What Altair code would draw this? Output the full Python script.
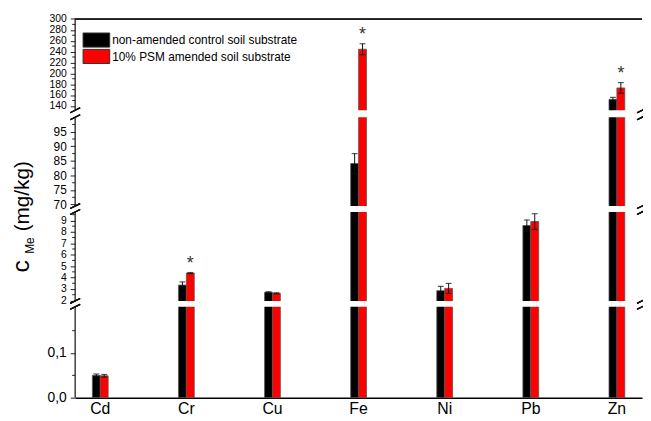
import altair as alt
import pandas as pd

# ---------------- data ----------------
elements = ["Cd", "Cr", "Cu", "Fe", "Ni", "Pb", "Zn"]
series_names = ["non-amended control soil substrate", "10% PSM amended soil substrate"]
series_colors = ["#000000", "#ff0000"]

control_mean = [0.050, 3.34, 2.71, 84.1, 2.85, 8.55, 152.1]
control_err = [0.003, 0.28, 0.05, 3.4, 0.38, 0.49, 3.6]
psm_mean = [0.049, 4.39, 2.62, 244.3, 3.05, 8.90, 173.1]
psm_err = [0.003, 0.05, 0.05, 10.1, 0.44, 0.69, 9.8]
significant = ["Cr", "Fe", "Zn"]  # PSM values marked with *

major_ticks = [0.0, 0.1, 2, 3, 4, 5, 6, 7, 8, 9, 70, 75, 80, 85, 90, 95,
               140, 160, 180, 200, 220, 240, 260, 280, 300]
minor_ticks = [0.05, 0.15, 2.5, 3.5, 4.5, 5.5, 6.5, 7.5, 8.5, 9.5,
               72.5, 77.5, 82.5, 87.5, 92.5, 97.5,
               150, 170, 190, 210, 230, 250, 270, 290]

# broken y axis: value breakpoints and their pixel rows in the plot
seg_domain = [0, 0.2033, 1.957, 9.735, 69.49, 99.98, 131.9, 300.9]
seg_range = [384, 292, 286, 196, 190, 100, 93, 0]

W, H = 574, 384

rows = []
for i, el in enumerate(elements):
    for s, m, e in ((series_names[0], control_mean[i], control_err[i]),
                    (series_names[1], psm_mean[i], psm_err[i])):
        rows.append({"element": el, "series": s, "mean": m, "lo": m - e, "hi": m + e,
                     "sig": (s == series_names[1] and el in significant)})
df = pd.DataFrame(rows)

segs = pd.DataFrame({"a": seg_domain[0::2], "b": seg_domain[1::2]})
gaps = pd.DataFrame({"a": seg_domain[1:-1:2], "b": seg_domain[2::2]})
minor_df = pd.DataFrame({"v": minor_ticks})

# ---------------- scales ----------------
xscale = alt.Scale(domain=elements, paddingInner=0.8166, paddingOuter=0.2)
yscale = alt.Scale(type="linear", domain=seg_domain, range=seg_range, zero=False, nice=False)
xoff = alt.XOffset("series:N", scale=alt.Scale(domain=series_names, paddingInner=0, paddingOuter=0))
color = alt.Color("series:N", scale=alt.Scale(domain=series_names, range=series_colors), legend=None)

x_axis = alt.Axis(title=None, labelAngle=0, ticks=False, domainColor="#000", domainWidth=1.6,
                  labelFontSize=16, labelFont="Liberation Sans", labelColor="#000", labelPadding=3,
                  grid=False)
y_axis = alt.Axis(values=major_ticks, title=None, domain=False, grid=False, tickSize=5,
                  tickColor="#222", tickWidth=1,
                  labelFontSize={"condition": [
                      {"test": "datum.value < 1", "value": 14},
                      {"test": "datum.value > 50 && datum.value < 100", "value": 12},
                  ], "value": 10.5},
                  labelFont="Liberation Sans", labelColor="#000", labelPadding=4,
                  labelOverlap=False, labelFlush=False,
                  labelExpr="datum.value < 1 ? replace(format(datum.value, '.1f'), '.', ',') : format(datum.value, 'd')")


def Y(field):
    return alt.Y(field, scale=yscale, axis=y_axis)


def X():
    return alt.X("element:N", scale=xscale, sort=elements, axis=x_axis)


base = alt.Chart(df)

bars = base.mark_bar(stroke="#555", strokeWidth=0.8).encode(
    x=X(), xOffset=xoff, y=Y("mean:Q"), y2=alt.datum(0), color=color,
)
err = base.mark_rule(color="#111", strokeWidth=1).encode(
    x=X(), xOffset=xoff, y=Y("lo:Q"), y2="hi:Q",
)
cap_hi = base.mark_tick(color="#111", orient="horizontal", size=6, thickness=1.2).encode(
    x=X(), xOffset=xoff, y=Y("hi:Q"),
)
cap_lo = base.mark_tick(color="#111", orient="horizontal", size=6, thickness=1.2).encode(
    x=X(), xOffset=xoff, y=Y("lo:Q"),
)
stars = base.transform_filter("datum.sig").mark_text(
    text="*", fontSize=18, font="Liberation Sans", color="#333", baseline="alphabetic", dy=-4
).encode(x=X(), xOffset=xoff, y=Y("hi:Q"))

gap_rects = alt.Chart(gaps).mark_rect(color="white").encode(
    x=alt.value(0), x2=alt.value(W), y=Y("a:Q"), y2="b:Q",
)
axis_segs = alt.Chart(segs).mark_rule(color="#222", strokeWidth=1.3).encode(
    x=alt.value(0), y=Y("a:Q"), y2="b:Q",
)
minor = alt.Chart(minor_df).mark_rule(color="#222", strokeWidth=1).encode(
    x=alt.value(-3), x2=alt.value(0), y=Y("v:Q"),
)

# break symbols (decoration) at the gap rows, on both sides
break_layers = []
for k in range(1, len(seg_range) - 1, 2):
    for edge in (seg_range[k], seg_range[k + 1]):
        for xp in (0, W):
            break_layers.append(alt.Chart(segs).mark_rule(color="#111", strokeWidth=1.2).encode(
                x=alt.value(xp - 5), x2=alt.value(xp + 5),
                y=alt.value(edge + 2.5), y2=alt.value(edge - 2.5)))

top_frame = alt.Chart(segs).mark_rule(color="#222", strokeWidth=1.6).encode(
    x=alt.value(0), x2=alt.value(W), y=alt.value(0.8),
)

legend_layers = []
for i, (name, col) in enumerate(zip(series_names, series_colors)):
    ld = pd.DataFrame({"label": [name]})
    y0 = 14.7 + i * 16.6
    legend_layers.append(alt.Chart(ld).mark_rect(color=col, stroke="#333", strokeWidth=1).encode(
        x=alt.value(8), x2=alt.value(35), y=alt.value(y0), y2=alt.value(y0 + 14.3)))
    legend_layers.append(alt.Chart(ld).mark_text(
        align="left", baseline="middle", fontSize=12, font="Liberation Sans", color="#000"
    ).encode(x=alt.value(37.5), y=alt.value(y0 + 7.4), text="label:N"))

title_df = pd.DataFrame({"t": ["c", "Me", "(mg/kg)"]})
t_c = alt.Chart(title_df).transform_filter("datum.t == 'c'").mark_text(
    angle=270, align="center", baseline="alphabetic", fontSize=25, font="Liberation Sans", color="#000"
).encode(x=alt.value(-47), y=alt.value(251), text="t:N")
t_me = alt.Chart(title_df).transform_filter("datum.t == 'Me'").mark_text(
    angle=270, align="center", baseline="alphabetic", fontSize=12, font="Liberation Sans", color="#000"
).encode(x=alt.value(-42), y=alt.value(230), text="t:N")
t_unit = alt.Chart(title_df).transform_filter("datum.t == '(mg/kg)'").mark_text(
    angle=270, align="center", baseline="alphabetic", fontSize=21, font="Liberation Sans", color="#000"
).encode(x=alt.value(-47), y=alt.value(180), text="t:N")

chart = alt.layer(
    bars, err, cap_hi, cap_lo, gap_rects, axis_segs, minor, *break_layers, top_frame, stars,
    *legend_layers, t_c, t_me, t_unit
).properties(
    width=W, height=H,
    padding={"left": 68, "top": 8, "right": 1, "bottom": 21},
    autosize=alt.AutoSizeParams(type="none"),
).configure_view(stroke=None)

chart.save("out.html", embed_options={"renderer": "svg", "actions": False})
